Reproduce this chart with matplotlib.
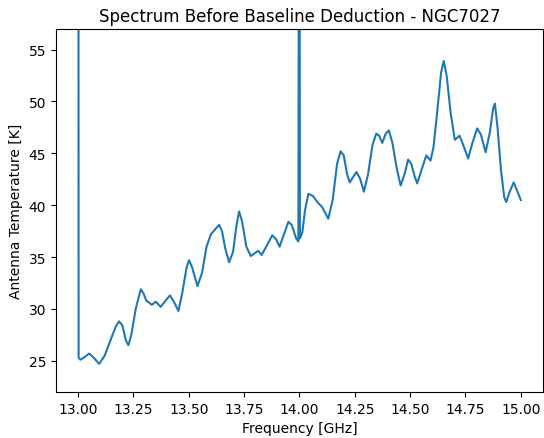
import matplotlib
matplotlib.use('Agg')
import matplotlib.pyplot as plt

# frequency samples [GHz] and antenna temperature [K]
freq = [13.000, 13.002, 13.010, 13.025, 13.050, 13.070, 13.095, 13.120, 13.150, 13.170,
        13.185, 13.200, 13.215, 13.227, 13.240, 13.260, 13.283, 13.295, 13.308, 13.333,
        13.351, 13.373, 13.395, 13.415, 13.435, 13.453, 13.470, 13.490, 13.501, 13.515,
        13.539, 13.560, 13.580, 13.600, 13.620, 13.637, 13.650, 13.665, 13.682, 13.700,
        13.715, 13.727, 13.740, 13.760, 13.780, 13.800, 13.814, 13.829, 13.850, 13.877,
        13.895, 13.910, 13.930, 13.950, 13.965, 13.985, 13.995, 13.998, 14.000, 14.002,
        14.013, 14.025, 14.040, 14.060, 14.085, 14.103, 14.130, 14.150, 14.170, 14.186,
        14.200, 14.215, 14.227, 14.245, 14.258, 14.275, 14.291, 14.310, 14.330, 14.347,
        14.360, 14.374, 14.390, 14.404, 14.420, 14.440, 14.457, 14.475, 14.491, 14.505,
        14.520, 14.532, 14.550, 14.573, 14.592, 14.605, 14.620, 14.640, 14.652, 14.665,
        14.683, 14.702, 14.723, 14.740, 14.762, 14.780, 14.803, 14.820, 14.841, 14.860,
        14.875, 14.883, 14.895, 14.910, 14.925, 14.934, 14.950, 14.968, 14.985, 15.000]
temp = [200.0, 25.3, 25.1, 25.3, 25.7, 25.3, 24.7, 25.5, 27.2, 28.3,
        28.8, 28.4, 27.0, 26.5, 27.5, 30.0, 31.9, 31.5, 30.8, 30.4,
        30.7, 30.2, 30.8, 31.3, 30.6, 29.8, 31.5, 34.0, 34.7, 34.0,
        32.2, 33.5, 36.0, 37.2, 37.7, 38.1, 37.5, 35.8, 34.5, 35.5,
        38.0, 39.4, 38.5, 36.0, 35.1, 35.4, 35.6, 35.2, 36.0, 37.1,
        36.7, 36.0, 37.2, 38.4, 38.1, 36.8, 36.5, 80.0, 80.0, 36.8,
        37.4, 39.5, 41.1, 40.9, 40.2, 39.8, 38.7, 40.5, 44.0, 45.2,
        44.8, 43.0, 42.2, 42.8, 43.2, 42.5, 41.3, 43.0, 45.8, 46.9,
        46.7, 46.0, 46.9, 47.2, 46.0, 43.5, 41.9, 43.0, 44.4, 44.0,
        42.8, 42.1, 43.3, 44.8, 44.3, 45.5, 48.5, 52.8, 53.9, 52.5,
        48.9, 46.3, 46.7, 45.8, 44.5, 45.9, 47.4, 46.8, 45.1, 47.0,
        49.3, 49.8, 47.5, 43.5, 40.8, 40.3, 41.3, 42.2, 41.3, 40.5]

fig = plt.figure(figsize=(5.44, 4.39), dpi=100)
ax = fig.add_axes([0.103, 0.105, 0.895, 0.827])
ax.plot(freq, temp, color='tab:blue', linewidth=1.5)

ax.set_ylim(22, 57)
ax.set_xlim(12.9, 15.1)
ax.set_xticks([13.0, 13.25, 13.5, 13.75, 14.0, 14.25, 14.5, 14.75, 15.0])
ax.set_xticklabels(['13.00', '13.25', '13.50', '13.75', '14.00', '14.25', '14.50', '14.75', '15.00'])
ax.set_xlabel('Frequency [GHz]')
ax.set_ylabel('Antenna Temperature [K]')
ax.set_title('Spectrum Before Baseline Deduction - NGC7027')

fig.savefig('out.png', dpi=100)
